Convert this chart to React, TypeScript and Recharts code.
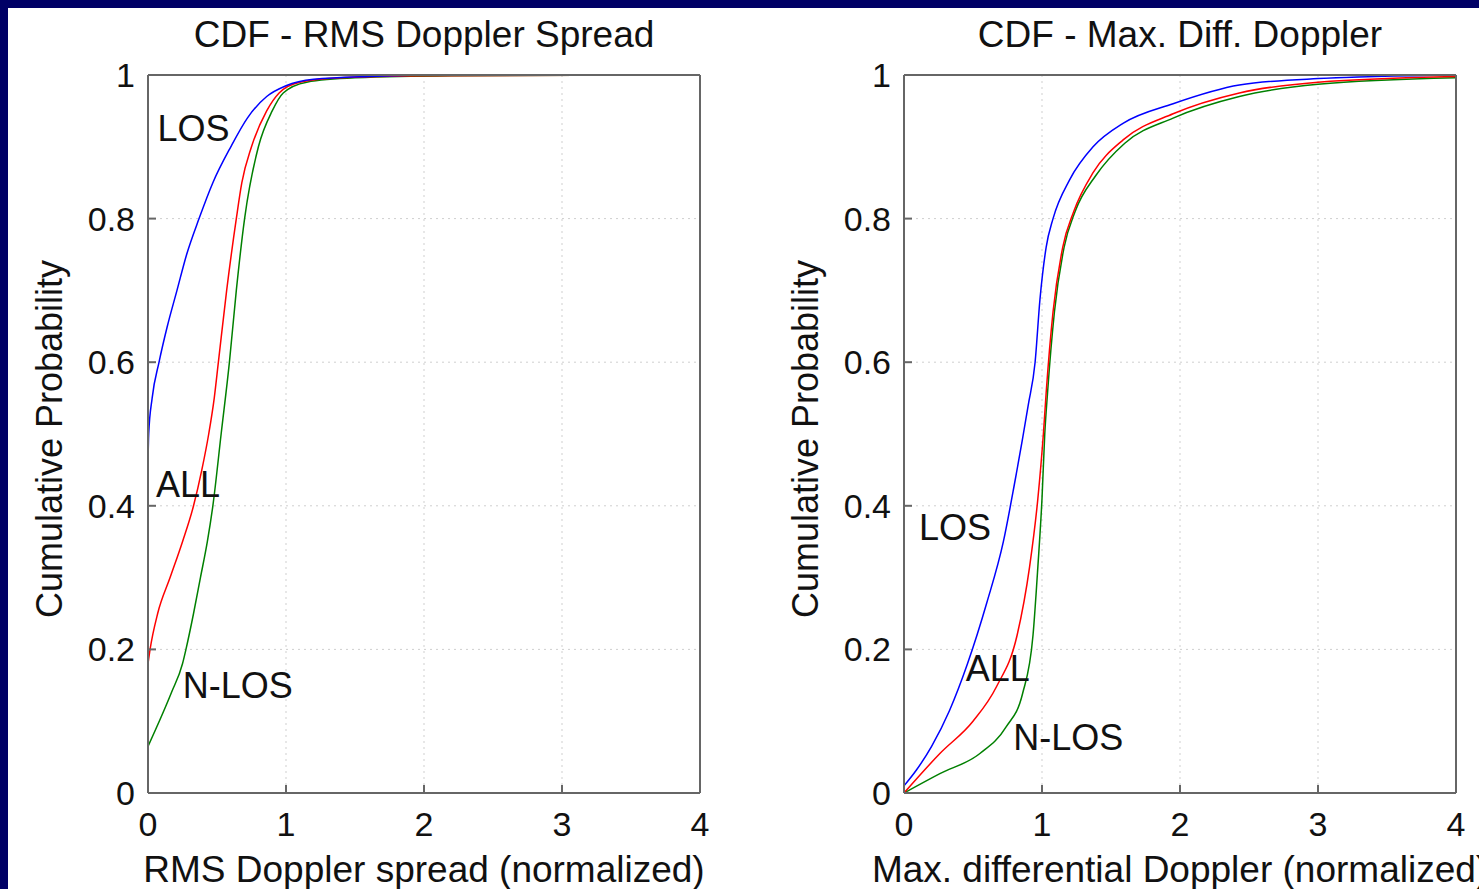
import { LineChart, Line, XAxis, YAxis, CartesianGrid, ReferenceDot } from "recharts";

type Pt = [number, number];

const FONT = '"Liberation Sans", Arial, Helvetica, sans-serif';

const xTicks = [0, 1, 2, 3, 4];
const yTicks = [0, 0.2, 0.4, 0.6, 0.8, 1];

// CDF - RMS Doppler spread
const rmsLos: Pt[] = [
  [0, 0.46], [0.005, 0.5], [0.03, 0.55], [0.08, 0.6], [0.14, 0.65], [0.21, 0.7],
  [0.28, 0.75], [0.37, 0.8], [0.47, 0.85], [0.6, 0.9], [0.72, 0.94], [0.86, 0.97],
  [1.0, 0.985], [1.2, 0.994], [1.6, 0.998], [2.2, 1], [3.6, 1],
];
const rmsAll: Pt[] = [
  [0, 0.18], [0.015, 0.2], [0.07, 0.25], [0.16, 0.3], [0.25, 0.35], [0.33, 0.4],
  [0.39, 0.45], [0.44, 0.5], [0.48, 0.55], [0.51, 0.6], [0.57, 0.7], [0.64, 0.8],
  [0.68, 0.85], [0.75, 0.9], [0.86, 0.95], [0.95, 0.975], [1.1, 0.99], [1.4, 0.996],
  [2, 0.999], [3.6, 1],
];
const rmsNlos: Pt[] = [
  [0, 0.065], [0.17, 0.14], [0.25, 0.18], [0.275, 0.2], [0.33, 0.25], [0.38, 0.3],
  [0.43, 0.35], [0.47, 0.4], [0.53, 0.5], [0.59, 0.6], [0.64, 0.7], [0.7, 0.8],
  [0.8, 0.9], [0.9, 0.95], [0.98, 0.975], [1.15, 0.99], [1.5, 0.996], [2.2, 0.999],
  [3.6, 1],
];

// CDF - Max. differential Doppler
const maxLos: Pt[] = [
  [0, 0.01], [0.09, 0.032], [0.2, 0.065], [0.33, 0.115], [0.46, 0.18], [0.6, 0.265],
  [0.72, 0.35], [0.8, 0.43], [0.9, 0.54], [0.95, 0.6], [0.985, 0.687], [1.03, 0.76],
  [1.08, 0.8], [1.2, 0.854], [1.37, 0.9], [1.59, 0.933], [1.95, 0.96], [2.43, 0.986],
  [3, 0.995], [4, 1],
];
const maxAll: Pt[] = [
  [0, 0], [0.26, 0.055], [0.5, 0.1], [0.67, 0.148], [0.82, 0.22], [0.91, 0.315],
  [0.97, 0.41], [1.01, 0.5], [1.03, 0.557], [1.08, 0.67], [1.15, 0.76], [1.23, 0.81],
  [1.37, 0.864], [1.59, 0.91], [1.95, 0.946], [2.43, 0.975], [3, 0.99], [4, 0.998],
];
const maxNlos: Pt[] = [
  [0, 0], [0.26, 0.027], [0.55, 0.055], [0.74, 0.092], [0.86, 0.139], [0.935, 0.22],
  [0.97, 0.315], [1.0, 0.41], [1.02, 0.5], [1.04, 0.557], [1.09, 0.67], [1.16, 0.76],
  [1.24, 0.81], [1.39, 0.86], [1.6, 0.905], [1.95, 0.94], [2.43, 0.97], [3, 0.987],
  [4, 0.996],
];

// label anchor points, in data units
const rmsLabels: [string, number, number][] = [
  ["LOS", 0.33, 0.926], ["ALL", 0.29, 0.43], ["N-LOS", 0.65, 0.15],
];
const maxLabels: [string, number, number][] = [
  ["LOS", 0.37, 0.37], ["ALL", 0.68, 0.174], ["N-LOS", 1.19, 0.078],
];

const COLORS = { los: "#0000ff", all: "#ff0000", nlos: "#008000" };
const AXIS = "#666";

const rows = (pts: Pt[]) => pts.map(([x, y]) => ({ x, y }));

type PanelProps = {
  left: number;
  width: number;
  marginLeft: number;
  marginRight: number;
  title: string;
  xLabel: string;
  los: Pt[];
  all: Pt[];
  nlos: Pt[];
  labels: [string, number, number][];
};

function Panel(p: PanelProps) {
  const plotLeft = p.left + p.marginLeft + 60;
  const plotRight = p.left + p.width - p.marginRight - 1;
  const cx = (plotLeft + plotRight) / 2;
  const text = { position: "absolute" as const, fontFamily: FONT, color: "#111", whiteSpace: "nowrap" as const };
  return (
    <>
      <div style={{ ...text, left: cx, top: 35, fontSize: 37, transform: "translate(-50%,-50%)" }}>{p.title}</div>
      <div style={{ ...text, left: cx, top: 870, fontSize: 37, transform: "translate(-50%,-50%)" }}>{p.xLabel}</div>
      <div style={{ ...text, left: plotLeft - 98, top: 439, fontSize: 36, transform: "translate(-50%,-50%) rotate(-90deg)" }}>
        Cumulative Probability
      </div>
      <div style={{ position: "absolute", left: p.left, top: 0, fontFamily: FONT }}>
        <LineChart
          width={p.width}
          height={889}
          margin={{ top: 74, right: p.marginRight, bottom: 66, left: p.marginLeft }}
        >
          <CartesianGrid stroke="#cfcfcf" strokeDasharray="2 4" />
          <XAxis
            dataKey="x"
            type="number"
            domain={[0, 4]}
            ticks={xTicks}
            height={30}
            stroke={AXIS}
            strokeWidth={2}
            tickSize={-8}
            tickLine={{ stroke: AXIS, strokeWidth: 2 }}
            tickMargin={27}
            tick={{ fontSize: 34, fill: "#111" }}
            allowDataOverflow
          />
          <XAxis
            xAxisId="top"
            orientation="top"
            dataKey="x"
            type="number"
            domain={[0, 4]}
            ticks={xTicks}
            height={1}
            stroke={AXIS}
            strokeWidth={2}
            tickSize={-8}
            tick={false}
          />
          <YAxis
            type="number"
            domain={[0, 1]}
            ticks={yTicks}
            width={60}
            stroke={AXIS}
            strokeWidth={2}
            tickSize={-8}
            tickLine={{ stroke: AXIS, strokeWidth: 2 }}
            tickMargin={21}
            tick={{ fontSize: 34, fill: "#111" }}
            allowDataOverflow
          />
          <YAxis
            yAxisId="right"
            orientation="right"
            type="number"
            domain={[0, 1]}
            ticks={yTicks}
            width={1}
            stroke={AXIS}
            strokeWidth={2}
            tickSize={-8}
            tick={false}
          />
          <Line data={rows(p.nlos)} dataKey="y" type="monotone" stroke={COLORS.nlos} strokeWidth={1.5} dot={false} activeDot={false} isAnimationActive={false} />
          <Line data={rows(p.all)} dataKey="y" type="monotone" stroke={COLORS.all} strokeWidth={1.5} dot={false} activeDot={false} isAnimationActive={false} />
          <Line data={rows(p.los)} dataKey="y" type="monotone" stroke={COLORS.los} strokeWidth={1.5} dot={false} activeDot={false} isAnimationActive={false} />
          {p.labels.map(([name, x, y]) => (
            <ReferenceDot
              key={name}
              x={x}
              y={y}
              r={0}
              fill="none"
              stroke="none"
              label={{ value: name, position: "center", fontSize: 36, fill: "#111", fontFamily: FONT }}
            />
          ))}
        </LineChart>
      </div>
    </>
  );
}

export default function App() {
  return (
    <div style={{ position: "absolute", left: 0, top: 0, width: 1479, height: 889, background: "#000066", overflow: "hidden" }}>
      <div style={{ position: "absolute", left: 8, top: 8, right: 0, bottom: 0, background: "#fff" }} />
      <Panel
        left={0}
        width={740}
        marginLeft={88}
        marginRight={39}
        title="CDF - RMS Doppler Spread"
        xLabel="RMS Doppler spread (normalized)"
        los={rmsLos}
        all={rmsAll}
        nlos={rmsNlos}
        labels={rmsLabels}
      />
      <Panel
        left={740}
        width={739}
        marginLeft={104}
        marginRight={22}
        title="CDF - Max. Diff. Doppler"
        xLabel="Max. differential Doppler (normalized)"
        los={maxLos}
        all={maxAll}
        nlos={maxNlos}
        labels={maxLabels}
      />
    </div>
  );
}
